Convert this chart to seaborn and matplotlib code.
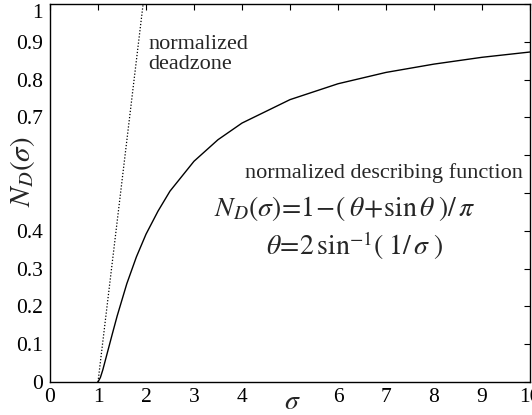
import numpy as np
import pandas as pd
import matplotlib
matplotlib.use("Agg")
import matplotlib.pyplot as plt
import seaborn as sns

# values
sigma = [1.0, 1.05, 1.1, 1.2, 1.3, 1.4, 1.6, 1.8, 2.0, 2.25, 2.5, 3.0, 3.5, 4.0, 5.0, 6.0, 7.0, 8.0, 9.0, 10.0]
nd = [0.0, 0.012, 0.032, 0.080, 0.128, 0.175, 0.260, 0.331, 0.391, 0.452, 0.505, 0.584, 0.641, 0.685, 0.747, 0.789, 0.819, 0.841, 0.859, 0.873]
dz_sigma = [1.0, 1.94]
dz_val = [0.0, 1.0]
xticks = list(range(0, 11))
xticklabels = ["0", "1", "2", "3", "4", "", "6", "7", "8", "9", "10"]
yticks = [0, 0.1, 0.2, 0.3, 0.4, 0.5, 0.6, 0.7, 0.8, 0.9, 1]
yticklabels = ["0", "0.1", "0.2", "0.3", "0.4", "", "", "0.7", "0.8", "0.9", "1"]

sns.set_style("white")
plt.rcParams['font.family'] = ['Liberation Serif', 'DejaVu Serif']
plt.rcParams['mathtext.fontset'] = 'stix'

fig = plt.figure(figsize=(5.32, 4.15), dpi=100)
ax = fig.add_axes([50/532, 1-382/415, 480/532, 378/415])

df = pd.DataFrame({"sigma": sigma, "nd": nd})
dz = pd.DataFrame({"sigma": dz_sigma, "nd": dz_val})
sns.lineplot(data=df, x="sigma", y="nd", ax=ax, color="black", linewidth=1.0)
sns.lineplot(data=dz, x="sigma", y="nd", ax=ax, color="black", linewidth=0.9, linestyle=(0, (1, 1.5)))

ax.set_xlim(0, 10)
ax.set_ylim(0, 1)
ax.set_xticks(xticks)
ax.set_xticklabels(xticklabels)
ax.set_yticks(yticks)
ax.set_yticklabels(yticklabels)
ax.tick_params(direction='in', length=4, width=0.8, top=True, right=True, labelsize=15.5, colors='black')
ax.tick_params(axis='x', pad=4)
ax.tick_params(axis='y', pad=5)
ax.get_yticklabels()[-1].set_va('top')
for s in ax.spines.values():
    s.set_visible(True)
    s.set_color('black')
    s.set_linewidth(1.0)

ax.set_xlabel("")
ax.set_ylabel("")
ax.text(5.05, -0.055, r"$\sigma$", fontsize=20, va='center', ha='center')
ax.text(-0.058, 0.556, r"$N_D(\sigma)$", fontsize=21, va='center', ha='center', rotation=90, transform=ax.transAxes)

ax.text(2.05, 0.918, "normalized\ndeadzone", fontsize=16, va='top', ha='left', linespacing=1.1)
ax.text(6.95, 0.553, "normalized describing function", fontsize=16, va='center', ha='center')
ax.text(6.15, 0.46, r"$N_D(\sigma)\!=\!1\!-\!(\;\theta\!+\!\sin\theta\;)/\,\pi$", fontsize=20, va='center', ha='center')
ax.text(6.35, 0.36, r"$\theta\!=\!2\,\sin^{-1}\!(\;1/\,\sigma\;)$", fontsize=20, va='center', ha='center')

fig.savefig("out.png", dpi=100)
